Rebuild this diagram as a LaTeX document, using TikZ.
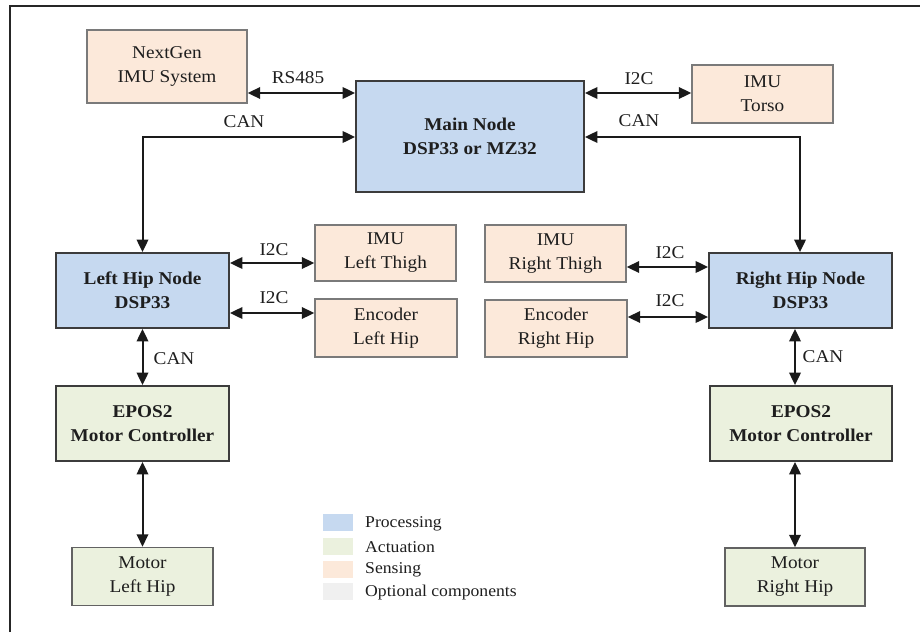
\documentclass[tikz,border=0pt]{standalone}
\usepackage{fontspec}
\setmainfont{Liberation Serif}[FakeStretch=1.07]
\usetikzlibrary{arrows.meta}

\definecolor{procfill}{HTML}{C6D9F0}
\definecolor{actfill}{HTML}{EBF1DE}
\definecolor{sensfill}{HTML}{FCE9DA}
\definecolor{optfill}{HTML}{F0F0F0}
\definecolor{boxline}{HTML}{3C3C3C}
\definecolor{sensline}{HTML}{7A7A7A}
\definecolor{wire}{HTML}{1A1A1A}
\definecolor{txt}{HTML}{1E1E1E}

\tikzset{
  size/.style 2 args={minimum width=#1, minimum height=#2, inner sep=0pt, align=center},
  boxtext/.style={font=\fontsize{18}{24}\selectfont, text=txt},
  proc/.style={boxtext, draw=boxline, fill=procfill, line width=1.8pt, font=\bfseries\fontsize{18}{24}\selectfont},
  actbold/.style={boxtext, draw=boxline, fill=actfill, line width=1.8pt, font=\bfseries\fontsize{18}{24}\selectfont},
  actplain/.style={boxtext, draw=sensline!80!black, fill=actfill, line width=1.5pt},
  sens/.style={boxtext, draw=sensline, fill=sensfill, line width=1.4pt},
  tip/.tip={Triangle[length=12.5pt,width=11.5pt]},
  biarrow/.style={draw=wire, line width=2pt, tip-tip},
  lbl/.style={font=\fontsize{18}{22}\selectfont, text=txt, inner sep=0pt},
  legtext/.style={font=\fontsize{16.5}{20}\selectfont, text=txt, inner sep=0pt, anchor=west},
  swatch/.style={minimum width=30pt, minimum height=17pt, inner sep=0pt}
}

\begin{document}
\begin{tikzpicture}[x=1pt, y=-1pt]
  \useasboundingbox (0,0) rectangle (920,632);
  % frame
  \draw[line width=2pt, black!85] (9.5,632) -- (9.5,6) -- (920,6);

  % blocks
  \node[sens, size={160pt}{73pt}]     (nextgen) at (167,66.5) {NextGen\\IMU System};
  \node[proc, size={228pt}{111pt}]    (main)    at (470,136.5) {Main Node\\DSP33 or MZ32};
  \node[sens, size={141pt}{58pt}]     (torso)   at (762.5,94) {IMU\\Torso};

  \node[proc, size={173pt}{75pt}]     (lhip)    at (142.5,290.5) {Left Hip Node\\DSP33};
  \node[sens, size={141pt}{56pt}]     (lthigh)  at (385.5,253) {IMU\\Left Thigh};
  \node[sens, size={142pt}{58pt}]     (lenc)    at (386,328) {Encoder\\Left Hip};
  \node[actbold, size={173pt}{75pt}]  (lepos)   at (142.5,423.5) {EPOS2\\Motor Controller};
  \node[actplain, size={141pt}{58pt}] (lmotor)  at (142.5,576.5) {Motor\\Left Hip};

  \node[sens, size={141pt}{57pt}]     (rthigh)  at (555.5,253.5) {IMU\\Right Thigh};
  \node[sens, size={142pt}{57pt}]     (renc)    at (556,328.5) {Encoder\\Right Hip};
  \node[proc, size={183pt}{75pt}]     (rhip)    at (800.5,290.5) {Right Hip Node\\DSP33};
  \node[actbold, size={182pt}{75pt}]  (repos)   at (801,423.5) {EPOS2\\Motor Controller};
  \node[actplain, size={140pt}{58pt}] (rmotor)  at (795,577) {Motor\\Right Hip};

  % links around the main node
  \draw[biarrow] (nextgen.east |- 0,93) -- (main.west |- 0,93);
  \draw[biarrow] (main.east |- 0,93) -- (torso.west |- 0,93);
  \draw[biarrow] (lhip.north) |- (main.west |- 0,137);
  \draw[biarrow] (main.east |- 0,137) -| (rhip.north -| 800,0);

  % left hip links
  \draw[biarrow] (lhip.east |- 0,263) -- (lthigh.west |- 0,263);
  \draw[biarrow] (lhip.east |- 0,313) -- (lenc.west |- 0,313);
  \draw[biarrow] (lhip.south) -- (lepos.north);
  \draw[biarrow] (lepos.south) -- (lmotor.north);

  % right hip links
  \draw[biarrow] (rthigh.east |- 0,267) -- (rhip.west |- 0,267);
  \draw[biarrow] (renc.east |- 0,317) -- (rhip.west |- 0,317);
  \draw[biarrow] (rhip.south -| rmotor.north) -- (repos.north -| rmotor.north);
  \draw[biarrow] (repos.south -| rmotor.north) -- (rmotor.north);

  % bus labels
  \node[lbl] (l1) at (298,78)  {RS485};
  \node[lbl] (l2) at (244,122) {CAN};
  \node[lbl] (l3) at (639,79)  {I2C};
  \node[lbl] (l4) at (639,121) {CAN};
  \node[lbl] (l5) at (274,250) {I2C};
  \node[lbl] (l6) at (274,298) {I2C};
  \node[lbl] (l7) at (174,359) {CAN};
  \node[lbl] (l8) at (670,253) {I2C};
  \node[lbl] (l9) at (670,301) {I2C};
  \node[lbl] (l10) at (823,357) {CAN};

  % legend
  \node[swatch, fill=procfill] (k1) at (338,522.5) {};
  \node[swatch, fill=actfill]  (k2) at (338,546.5) {};
  \node[swatch, fill=sensfill] (k3) at (338,569.5) {};
  \node[swatch, fill=optfill]  (k4) at (338,591.5) {};
  \node[legtext] (t1) at (365,524) {Processing};
  \node[legtext] (t2) at (365,547) {Actuation};
  \node[legtext] (t3) at (365,570) {Sensing};
  \node[legtext] (t4) at (365,593) {Optional components};
\end{tikzpicture}
\end{document}
